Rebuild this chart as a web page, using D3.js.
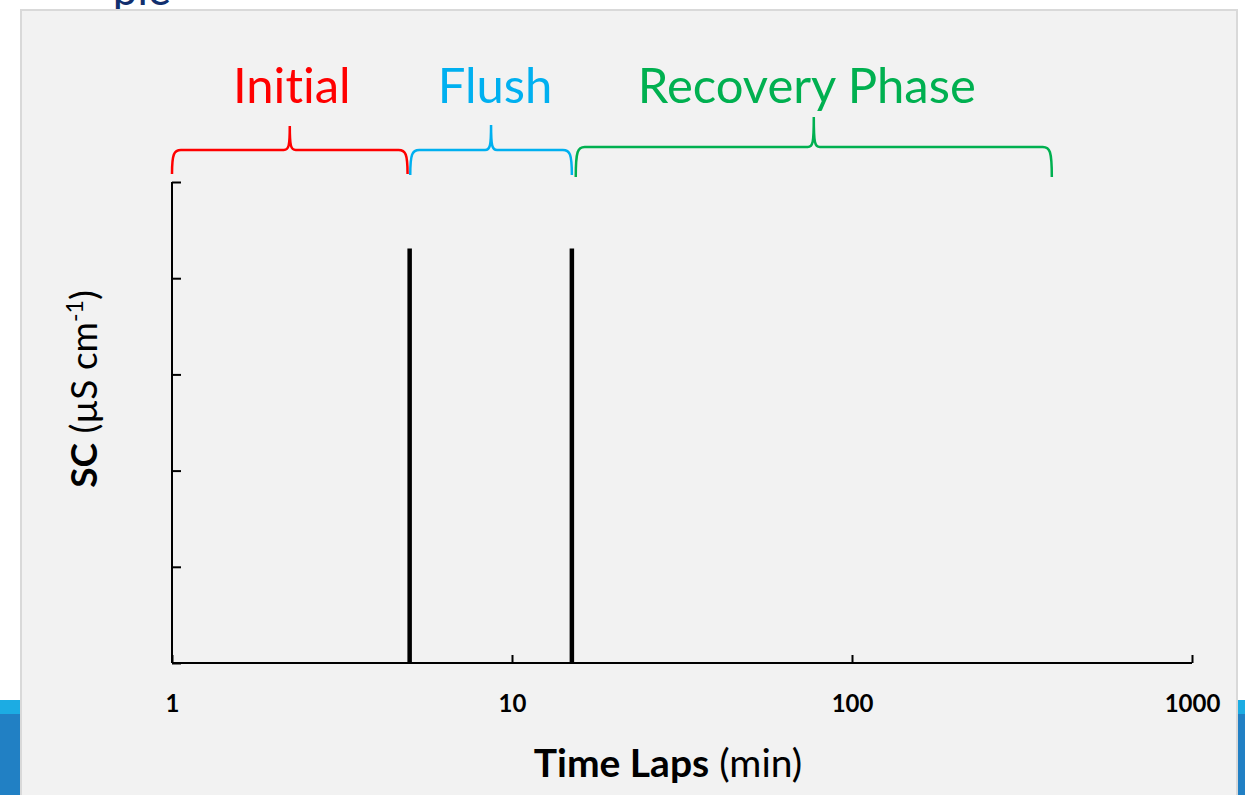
<!DOCTYPE html>
<html>
<head>
<meta charset="utf-8">
<script src="https://cdn.jsdelivr.net/npm/d3@7"></script>
<style>
  html, body { margin: 0; padding: 0; background: #ffffff; }
  svg { display: block; }
  text { font-family: Lato, "Open Sans", sans-serif; font-variant-ligatures: none; }
</style>
</head>
<body>
<svg id="chart" width="1245" height="795"></svg>
<script>
// ---- data ----
const xTickValues = [1, 10, 100, 1000];
const xTickLabels = ["1", "10", "100", "1000"];
const yTickValues = [0, 1, 2, 3, 4, 5];
const eventTimes = [5, 15];          // minutes (vertical markers)
const eventHeights = [4.31, 4.31];   // SC (relative units)
const phaseNames = ["Initial", "Flush", "Recovery Phase"];
const phaseStarts = [1, 5.02, 15.4];
const phaseEnds = [4.93, 15.0, 387];
const phaseColors = ["#ff0000", "#00b0f0", "#00b050"];

const svg = d3.select("#chart");

// slide background pieces
svg.append("text").attr("x", 171).attr("y", 5).attr("text-anchor", "end")
  .attr("font-size", 44).attr("fill", "#112f6e").text("ple");
svg.append("rect").attr("x", 0).attr("y", 700).attr("width", 20).attr("height", 14).attr("fill", "#1cace3");
svg.append("rect").attr("x", 0).attr("y", 714).attr("width", 20).attr("height", 81).attr("fill", "#2180c4");
svg.append("rect").attr("x", 1238).attr("y", 700).attr("width", 7).attr("height", 14).attr("fill", "#1cace3");
svg.append("rect").attr("x", 1238).attr("y", 714).attr("width", 7).attr("height", 81).attr("fill", "#2180c4");
// chart panel
svg.append("rect").attr("x", 21).attr("y", 10).attr("width", 1216).attr("height", 800)
  .attr("fill", "#f2f2f2").attr("stroke", "#d9d9d9").attr("stroke-width", 2);

// ---- scales ----
const x = d3.scaleLog().domain([1, 1000]).range([172, 1192]);
const y = d3.scaleLinear().domain([0, 5]).range([663, 182]);

// axes
const xAxis = svg.append("g").attr("transform", `translate(0,${y(0)})`)
  .call(d3.axisBottom(x).tickValues(xTickValues).tickSize(-8).tickFormat((d, i) => xTickLabels[i]));
xAxis.select(".domain").attr("stroke", "#000").attr("stroke-width", 2).attr("d", `M${x(1)},0H${x(1000)}`);
xAxis.selectAll(".tick line").attr("stroke", "#000").attr("stroke-width", 2);
xAxis.selectAll(".tick text").attr("y", 49).attr("dy", 0)
  .attr("font-size", 24).attr("font-weight", "bold").attr("fill", "#000")
  .style("font-family", "Lato, sans-serif");

const yAxis = svg.append("g").attr("transform", `translate(${x(1)},0)`)
  .call(d3.axisLeft(y).tickValues(yTickValues).tickSize(-9).tickFormat(""));
yAxis.select(".domain").attr("stroke", "#000").attr("stroke-width", 2).attr("d", `M0,${y(5)}V${y(0)}`);
yAxis.selectAll(".tick line").attr("stroke", "#000").attr("stroke-width", 2);

// event lines
svg.append("g").selectAll("line").data(eventTimes).join("line")
  .attr("x1", d => x(d)).attr("x2", d => x(d))
  .attr("y1", y(0)).attr("y2", (d, i) => y(eventHeights[i]))
  .attr("stroke", "#000").attr("stroke-width", 4.5);

// braces
function bracePath(x0, x1, yLine, h) {
  const xm = (x0 + x1) / 2, r = 9, c = 6;
  return `M${x0},${yLine + h}` +
    `C${x0},${yLine + 4} ${x0 + 2},${yLine} ${x0 + r},${yLine}` +
    `L${xm - c},${yLine}` +
    `C${xm - 1},${yLine} ${xm},${yLine - 4} ${xm},${yLine - h}` +
    `C${xm},${yLine - 4} ${xm + 1},${yLine} ${xm + c},${yLine}` +
    `L${x1 - r},${yLine}` +
    `C${x1 - 2},${yLine} ${x1},${yLine + 4} ${x1},${yLine + h}`;
}
const braceY = [150, 150, 147];
const braceH = [24, 25, 30];
svg.append("g").selectAll("path").data(phaseNames).join("path")
  .attr("d", (d, i) => bracePath(x(phaseStarts[i]), x(phaseEnds[i]), braceY[i], braceH[i]))
  .attr("fill", "none").attr("stroke", (d, i) => phaseColors[i]).attr("stroke-width", 2.5);

const labelShift = [2, 4, -7];
svg.append("g").selectAll("text").data(phaseNames).join("text")
  .attr("x", (d, i) => (x(phaseStarts[i]) + x(phaseEnds[i])) / 2 + labelShift[i])
  .attr("y", 103).attr("text-anchor", "middle")
  .attr("font-size", 49).attr("fill", (d, i) => phaseColors[i]).text(d => d);

// axis titles
const xt = svg.append("text").attr("x", 668).attr("y", 777).attr("text-anchor", "middle")
  .attr("font-size", 39).attr("fill", "#000");
xt.append("tspan").attr("font-weight", "bold").text("Time Laps");
xt.append("tspan").text(" (min)");

const yt = svg.append("text").attr("transform", "translate(97,389) rotate(-90)")
  .attr("text-anchor", "middle").attr("font-size", 37).attr("fill", "#000");
yt.append("tspan").attr("font-weight", "bold").text("SC");
yt.append("tspan").text(" (µS cm");
yt.append("tspan").attr("font-size", 23).attr("dy", -14).text("-1");
yt.append("tspan").attr("dy", 14).text(")");
</script>
</body>
</html>
